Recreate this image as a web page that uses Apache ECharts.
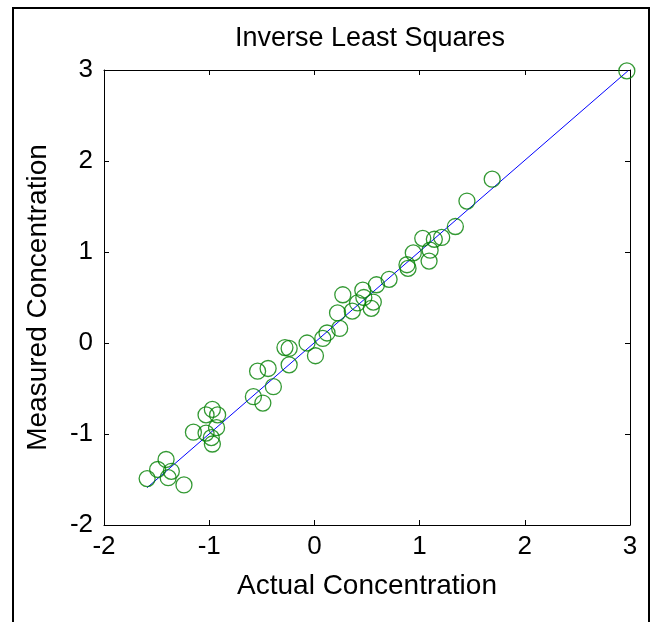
<!DOCTYPE html>
<html><head><meta charset="utf-8">
<script src="https://cdn.jsdelivr.net/npm/echarts@6/dist/echarts.min.js"></script>
<style>html,body{margin:0;padding:0;background:#fff}#c{width:658px;height:622px}</style>
</head><body><div id="c"></div>
<script>
const actual = [2.97,1.69,1.45,1.34,1.21,1.14,1.03,0.94,1.10,1.09,0.89,0.88,0.71,0.59,0.46,0.27,0.47,0.56,0.41,0.54,0.36,0.22,0.24,0.12,0.08,-0.07,0.01,-0.28,-0.24,-0.24,-0.54,-0.44,-0.39,-0.58,-0.49,-0.97,-1.03,-0.92,-0.93,-1.15,-1.03,-0.98,-0.97,-1.41,-1.49,-1.36,-1.39,-1.59,-1.24];
const measured = [2.99,1.80,1.56,1.28,1.16,1.14,1.15,0.99,1.02,0.90,0.82,0.86,0.70,0.64,0.58,0.53,0.50,0.45,0.44,0.38,0.35,0.33,0.16,0.11,0.05,0.00,-0.14,-0.05,-0.06,-0.24,-0.31,-0.28,-0.48,-0.59,-0.66,-0.73,-0.79,-0.79,-0.93,-0.98,-0.99,-1.04,-1.11,-1.28,-1.39,-1.41,-1.48,-1.49,-1.56];
const fitLineX = [-1.59, 2.98];
const fitLineY = [-1.59, 2.99];
const xTicks = [-2,-1,0,1,2,3];
const yTicks = [-2,-1,0,1,2,3];

const pts = actual.map((v,i)=>[v, measured[i]]);
const linePts = fitLineX.map((v,i)=>[v, fitLineY[i]]);
const font = 'Liberation Sans, Arial, sans-serif';
const chart = echarts.init(document.getElementById('c'), null, {renderer:'canvas'});
const axisCommon = {
  min: -2, max: 3, interval: 1,
  axisLine: {show:true, onZero:false, lineStyle:{color:'#000', width:1}},
  axisTick: {show:true, inside:true, length:5, lineStyle:{color:'#000'}},
  splitLine: {show:false}
};
chart.setOption({
  animation:false,
  backgroundColor:'#fff',
  title:{text:'Inverse Least Squares', left:365, textAlign:'center', top:20,
    textStyle:{fontFamily:font, fontSize:27, fontWeight:'normal', color:'#000'}},
  grid:{left:104, top:70, right:28, bottom:97},
  xAxis:[
    Object.assign({}, axisCommon, {type:'value', position:'bottom',
      name:'Actual Concentration', nameLocation:'middle', nameGap:47,
      nameTextStyle:{fontFamily:font, fontSize:28, color:'#000'},
      axisLabel:{fontFamily:font, fontSize:26, color:'#000', margin:9,
        formatter:v=>xTicks.includes(v)?String(v):''}}),
    Object.assign({}, axisCommon, {type:'value', position:'top', axisLabel:{show:false}})
  ],
  yAxis:[
    Object.assign({}, axisCommon, {type:'value', position:'left',
      name:'Measured Concentration', nameLocation:'middle', nameGap:52, nameRotate:90,
      nameTextStyle:{fontFamily:font, fontSize:28, color:'#000'},
      axisLabel:{fontFamily:font, fontSize:26, color:'#000', margin:11,
        formatter:v=>yTicks.includes(v)?String(v):''}}),
    Object.assign({}, axisCommon, {type:'value', position:'right', axisLabel:{show:false}})
  ],
  series:[
    {type:'line', data:linePts, showSymbol:false, symbol:'none',
      lineStyle:{color:'#0000ff', width:1}, z:2},
    {type:'scatter', data:pts, symbol:'circle', symbolSize:16,
      itemStyle:{color:'rgba(0,0,0,0)', borderColor:'#008000', borderWidth:1.3}, z:3}
  ],
  graphic:[
    {type:'polyline', shape:{points:[[13,622],[13,8],[649,8],[649,622]]},
      style:{stroke:'#000', lineWidth:2, fill:null}, silent:true}
  ]
});
</script></body></html>
